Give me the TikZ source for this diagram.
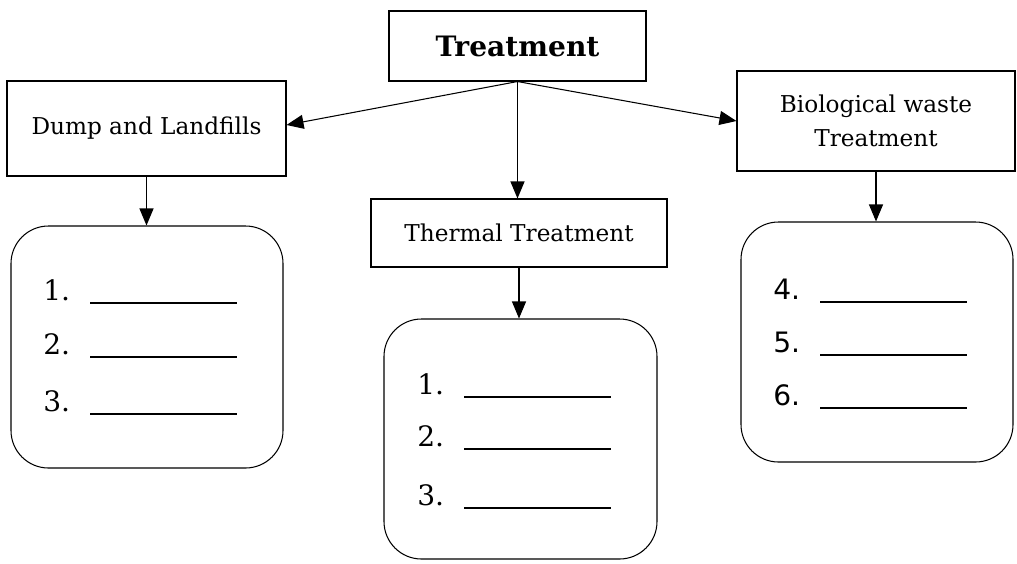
\documentclass[tikz,border=0pt]{standalone}
\usepackage{fontspec}
\setmainfont{DejaVu Serif}
\newfontfamily\numsans{DejaVu Sans}
\usetikzlibrary{arrows.meta}

\tikzset{
  box/.style={draw, line width=0.6pt, inner sep=0pt, align=center, font=\fontsize{13.2}{19}\selectfont},
  listbox/.style={draw, line width=0.6pt, rounded corners=0.75cm, inner sep=0pt},
  arr/.style={-{Triangle[length=0.34cm,width=0.28cm]}, line width=0.6pt},
  item/.style={anchor=base west, inner sep=0pt, font=\fontsize{16}{18}\selectfont}
}
\newcommand{\blankline}[1]{\makebox[0.94cm][l]{#1}\rule[-0.07cm]{2.94cm}{0.8pt}}

\begin{document}
\begin{tikzpicture}[x=0.2mm,y=-0.2mm]
\useasboundingbox (0,0) rectangle (1017,563);

\node[box, minimum width=5.14cm, minimum height=1.4cm, font=\fontsize{16}{19}\selectfont\bfseries] (treat) at (517.5,46) {Treatment};

\node[box, minimum width=5.58cm, minimum height=1.9cm] (dump) at (146.5,128.5) {Dump and Landfills};
\node[box, minimum width=5.56cm, minimum height=2cm] (bio) at (876,121) {Biological waste\\Treatment};
\node[box, minimum width=5.92cm, minimum height=1.36cm] (therm) at (519,233) {Thermal Treatment};

% boxes to fill in
\node[listbox, minimum width=5.44cm, minimum height=4.84cm] (lista) at (147,347) {};
\node[listbox, minimum width=5.46cm, minimum height=4.8cm] (listb) at (520.5,439) {};
\node[listbox, minimum width=5.44cm, minimum height=4.8cm] (listc) at (877,342) {};

\node[item] (a1) at (43,300) {\blankline{1.}};
\node[item] (a2) at (43,354) {\blankline{2.}};
\node[item] (a3) at (43,411) {\blankline{3.}};

\node[item] (b1) at (417,394) {\blankline{1.}};
\node[item] (b2) at (417,446) {\blankline{2.}};
\node[item] (b3) at (417,505) {\blankline{3.}};

\node[item] (c1) at (773,299) {\blankline{\numsans 4.}};
\node[item] (c2) at (773,352) {\blankline{\numsans 5.}};
\node[item] (c3) at (773,405) {\blankline{\numsans 6.}};

\draw[arr] (treat.south) -- ([yshift=0.07cm]dump.east);
\draw[arr] (treat.south) -- (bio.west);
\draw[arr] (treat.south) -- (treat.south |- therm.north);
\draw[arr] (dump.south) -- (dump.south |- lista.north);
\draw[arr] (therm.south) -- (therm.south |- listb.north);
\draw[arr] (bio.south) -- (bio.south |- listc.north);

\end{tikzpicture}
\end{document}
